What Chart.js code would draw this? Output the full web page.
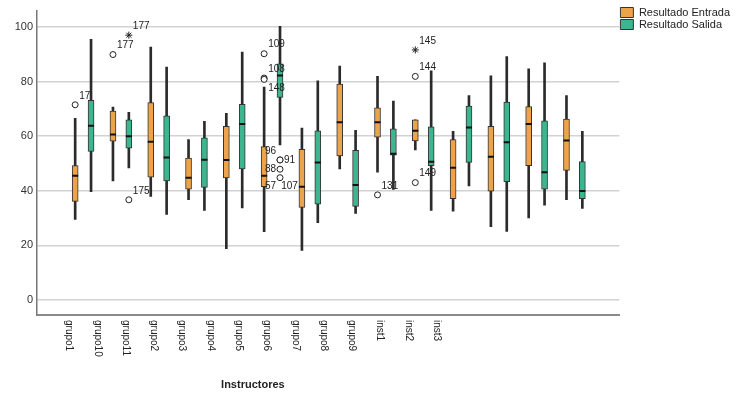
<!DOCTYPE html>
<html>
<head>
<meta charset="utf-8">
<script src="https://cdn.jsdelivr.net/npm/chart.js@4.4.1/dist/chart.umd.min.js"></script>
<style>body{margin:0;background:#fff}</style>
</head>
<body>
<canvas id="box" width="748" height="396"></canvas>
<script>
const grupos = ['grupo1','grupo10','grupo11','grupo2','grupo3','grupo4','grupo5','grupo6','grupo7','grupo8','grupo9','inst1','inst2','inst3'];

// Resultado Entrada
const entMin = [29.5, 43.6, 37.9, 36.7, 18.8, 25.0, 18.2, 48.0, 46.8, 55.0, 32.5, 26.9, 30.1, 36.7];
const entQ1  = [36.1, 58.2, 45.0, 40.6, 44.7, 41.5, 33.9, 52.8, 59.6, 58.3, 37.1, 39.9, 49.2, 47.5];
const entMed = [45.5, 60.6, 58.0, 44.8, 51.3, 45.5, 41.5, 65.1, 65.1, 62.0, 48.4, 52.5, 64.5, 58.4];
const entQ3  = [49.2, 69.2, 72.3, 52.0, 63.6, 56.2, 55.2, 79.1, 70.4, 66.0, 58.8, 63.6, 70.8, 66.3];
const entMax = [66.5, 70.7, 92.6, 58.8, 68.4, 78.0, 63.0, 85.7, 81.9, 66.0, 61.8, 82.1, 84.7, 74.9];

// Resultado Salida
const salMin = [39.7, 48.4, 31.3, 32.8, 33.7, 56.8, 28.3, 31.7, 40.5, 32.8, 41.8, 25.1, 34.7, 33.5];
const salQ1  = [54.4, 55.6, 43.6, 41.2, 48.0, 74.2, 35.1, 34.3, 53.0, 49.2, 50.4, 43.3, 40.6, 37.1];
const salMed = [63.8, 60.0, 52.2, 51.4, 64.5, 82.2, 50.4, 42.1, 53.6, 50.6, 63.2, 57.8, 46.8, 39.9];
const salQ3  = [73.1, 66.0, 67.5, 59.4, 71.7, 86.5, 62.0, 54.8, 62.7, 63.4, 71.0, 72.5, 65.6, 50.7];
const salMax = [95.5, 68.7, 85.3, 65.4, 90.8, 100.2, 80.3, 62.1, 72.9, 83.9, 74.9, 89.2, 86.9, 61.8];

// casos atipicos: g = grupo, s = serie, id = numero de caso
const atipicos = [
  {g: 0, s: 'E', v: 71.5, id: '17'},
  {g: 1, s: 'E', v: 89.9, id: '177'},
  {g: 1, s: 'S', v: 97.0, id: '177', extremo: true},
  {g: 1, s: 'S', v: 36.7, id: '175'},
  {g: 5, s: 'E', v: 90.2, id: '109'},
  {g: 5, s: 'E', v: 81.3, id: '108'},
  {g: 5, s: 'E', v: 80.8, id: '148', pos: 'rd'},
  {g: 5, s: 'S', v: 51.3, id: '91', pos: 'r'},
  {g: 5, s: 'S', v: 51.3, id: '96', pos: 'lu'},
  {g: 5, s: 'S', v: 47.9, id: '88', pos: 'l'},
  {g: 5, s: 'S', v: 44.8, id: '57', pos: 'ld'},
  {g: 6, s: 'E', v: 41.5, id: '107', pos: 'l', soloTexto: true},
  {g: 8, s: 'E', v: 38.5, id: '131'},
  {g: 9, s: 'E', v: 91.6, id: '145', extremo: true},
  {g: 9, s: 'E', v: 81.9, id: '144'},
  {g: 9, s: 'E', v: 43.0, id: '149'}
];

const NARANJA = '#EDA449';
const VERDE = '#3DB58E';
const off = {E: -0.21, S: 0.21};
const fuente = '"Liberation Sans", Arial, sans-serif';

const caja = (q1, q3, s) => grupos.map((g, i) => ({x: i + off[s], y: [q1[i], q3[i]]}));
const punto = (arr, s) => grupos.map((g, i) => ({x: i + off[s], y: arr[i]}));
const atip = (extremo) => atipicos.filter(o => !o.soloTexto && !!o.extremo === extremo)
  .map(o => ({x: o.g + off[o.s], y: o.v}));

const textos = {
  id: 'textos',
  afterDraw(chart) {
    const {ctx, scales: {x, y}} = chart;
    ctx.save();
    ctx.fillStyle = '#222';
    ctx.font = '10px ' + fuente;
    ctx.textBaseline = 'middle';
    atipicos.forEach(o => {
      const px = x.getPixelForValue(o.g + off[o.s]);
      const py = y.getPixelForValue(o.v);
      const p = o.pos || 'ru';
      const izq = p[0] === 'l';
      ctx.textAlign = izq ? 'right' : 'left';
      const dy = p[1] === 'u' ? -9 : p[1] === 'd' ? 9 : 0;
      ctx.fillText(o.id, px + (izq ? -4 : 4), py + dy);
    });

    // etiquetas de categoria, verticales
    const inicio = -0.37, paso = 0.748;
    ctx.font = '10px ' + fuente;
    ctx.textAlign = 'left';
    grupos.forEach((g, i) => {
      ctx.save();
      ctx.translate(x.getPixelForValue(inicio + paso * i), x.top + 5);
      ctx.rotate(Math.PI / 2);
      ctx.fillText(g, 0, 0);
      ctx.restore();
    });
    const cx = (x.getPixelForValue(inicio) + x.getPixelForValue(inicio + paso * (grupos.length - 1))) / 2;
    ctx.font = 'bold 11px ' + fuente;
    ctx.textAlign = 'center';
    ctx.fillText('Instructores', cx, x.top + 70);
    ctx.restore();
  }
};

new Chart(document.getElementById('box'), {
  type: 'bar',
  data: {
    datasets: [
      {label: 'Resultado Entrada', data: caja(entQ1, entQ3, 'E'), backgroundColor: NARANJA,
        borderColor: '#333', borderWidth: 1, borderSkipped: false, barThickness: 6, grouped: false, order: 1},
      {label: 'Resultado Salida', data: caja(salQ1, salQ3, 'S'), backgroundColor: VERDE,
        borderColor: '#333', borderWidth: 1, borderSkipped: false, barThickness: 6, grouped: false, order: 1},
      {label: 'bigotes E', data: caja(entMin, entMax, 'E'), backgroundColor: '#2b2b2b',
        barThickness: 2, grouped: false, order: 2},
      {label: 'bigotes S', data: caja(salMin, salMax, 'S'), backgroundColor: '#2b2b2b',
        barThickness: 2, grouped: false, order: 2},
      {type: 'scatter', label: 'mediana E', data: punto(entMed, 'E'), pointStyle: 'line',
        radius: 3, borderColor: '#111', borderWidth: 2, order: 0},
      {type: 'scatter', label: 'mediana S', data: punto(salMed, 'S'), pointStyle: 'line',
        radius: 3, borderColor: '#111', borderWidth: 2, order: 0},
      {type: 'scatter', label: 'atipicos', data: atip(false), pointStyle: 'circle',
        radius: 3, backgroundColor: '#fff', borderColor: '#222', borderWidth: 1, order: 0},
      {type: 'scatter', label: 'extremos', data: atip(true), pointStyle: 'star',
        radius: 3.5, borderColor: '#222', borderWidth: 1, order: 0}
    ]
  },
  options: {
    responsive: false,
    animation: false,
    devicePixelRatio: 1,
    layout: {padding: {top: 6, right: 8, left: 0, bottom: 0}},
    plugins: {
      tooltip: {enabled: false},
      legend: {
        position: 'right',
        align: 'start',
        labels: {
          boxWidth: 13,
          boxHeight: 10,
          padding: 1,
          color: '#222',
          font: {family: fuente, size: 11},
          filter: item => item.datasetIndex < 2
        }
      }
    },
    scales: {
      x: {
        type: 'linear',
        min: -1.22,
        max: 14.19,
        offset: false,
        afterFit: s => { s.height = 81; },
        ticks: {display: false},
        grid: {display: false},
        border: {color: '#8a8a8a', width: 2}
      },
      y: {
        min: -5.5,
        max: 106,
        afterFit: s => { s.width = 37; },
        afterBuildTicks: s => { s.ticks = s.ticks.filter(t => t.value % 20 === 0); },
        ticks: {stepSize: 20, padding: 4, color: '#333', font: {family: fuente, size: 11}},
        grid: {color: '#d2d2d2', lineWidth: 1.5, drawTicks: false},
        border: {color: '#777', width: 1.5}
      }
    }
  },
  plugins: [textos]
});
</script>
</body>
</html>
